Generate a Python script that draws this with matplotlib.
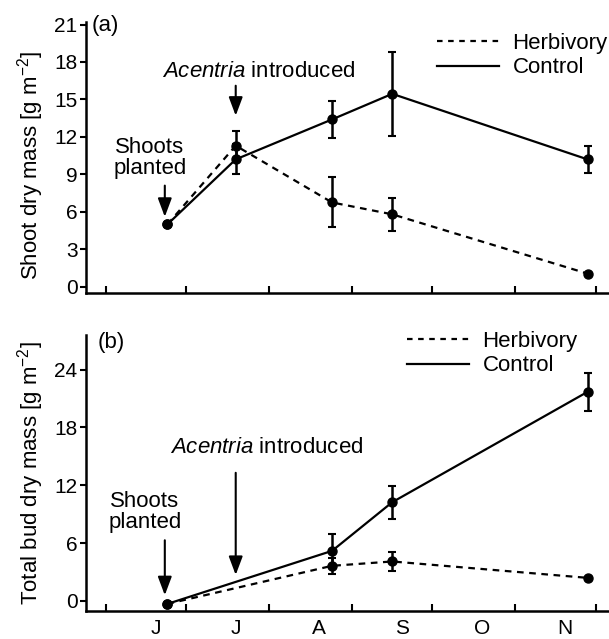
import numpy as np
import matplotlib
matplotlib.use('Agg')
import matplotlib.pyplot as plt
from matplotlib.lines import Line2D

plt.rcParams['font.family'] = ['Liberation Sans', 'DejaVu Sans']
plt.rcParams['mathtext.fontset'] = 'custom'
plt.rcParams['mathtext.rm'] = 'Liberation Sans'
plt.rcParams['mathtext.it'] = 'Liberation Sans:italic'
plt.rcParams['mathtext.default'] = 'regular'

# x axis: days since 1 June
month_starts = [0, 30, 61, 92, 122, 153, 183]
month_labels = ['J', 'J', 'A', 'S', 'O', 'N']

# (a) shoot dry mass
shoot_days = [23, 48.5, 84.5, 107, 180]
shoot_herb = [5.0, 11.3, 6.75, 5.8, 1.05]
shoot_herb_se = [0, 1.2, 2.0, 1.3, 0]
shoot_ctrl = [5.0, 10.2, 13.4, 15.45, 10.2]
shoot_ctrl_se = [0, 1.2, 1.45, 3.35, 1.07]

# (b) total bud dry mass
bud_days = [23, 84.5, 107, 180]
bud_herb = [-0.3, 3.65, 4.1, 2.4]
bud_herb_se = [0, 0.85, 0.97, 0]
bud_ctrl = [-0.3, 5.2, 10.25, 21.7]
bud_ctrl_se = [0, 1.7, 1.73, 1.95]

planted_day = 22
intro_day = 48.5

FS = 15     # tick labels
TFS = 16    # annotations, legend, axis labels
dash = (0, (3, 2.5))


def draw_series(ax, days, herb, herb_se, ctrl, ctrl_se):
    ax.plot(days, herb, ls=dash, color='k', lw=1.6, marker='o', ms=6.5)
    ax.plot(days, ctrl, ls='-', color='k', lw=1.6, marker='o', ms=6.5)
    ax.errorbar(days, herb, yerr=herb_se, fmt='none', ecolor='k', elinewidth=1.8, capsize=3, capthick=1.5)
    ax.errorbar(days, ctrl, yerr=ctrl_se, fmt='none', ecolor='k', elinewidth=1.8, capsize=3, capthick=1.5)


def style_axes(ax):
    for s in ['top', 'right']:
        ax.spines[s].set_visible(False)
    for s in ['left', 'bottom']:
        ax.spines[s].set_linewidth(1.8)
    ax.set_xlim(-7.5, 188)
    ax.set_xticks(month_starts)
    ax.set_xticklabels([])
    ax.tick_params(axis='x', which='major', direction='in', length=5, width=1.5)
    ax.tick_params(axis='y', direction='out', length=4, width=1.5, labelsize=FS, pad=2)


def add_legend(ax, anchor):
    handles = [Line2D([], [], color='k', lw=1.6, ls=(0, (2.5, 2.5))),
               Line2D([], [], color='k', lw=1.6, ls='-')]
    ax.legend(handles, ['Herbivory', 'Control'], loc='upper left', bbox_to_anchor=anchor,
              bbox_transform=ax.figure.transFigure, frameon=False, fontsize=TFS,
              handlelength=2.8, handletextpad=0.6, labelspacing=0.15, borderpad=0, borderaxespad=0)


def arrow(ax, x, y0, y1):
    ax.annotate('', xy=(x, y1), xytext=(x, y0),
                arrowprops=dict(arrowstyle='-|>,head_width=0.3,head_length=0.8',
                                color='k', lw=1.5, mutation_scale=14, shrinkA=0, shrinkB=0))


fig = plt.figure(figsize=(6.09, 6.39), dpi=100)
ax1 = fig.add_axes([0.141, 0.5415, 0.859, 0.424])
ax2 = fig.add_axes([0.141, 0.0438, 0.859, 0.432])

# panel (a)
draw_series(ax1, shoot_days, shoot_herb, shoot_herb_se, shoot_ctrl, shoot_ctrl_se)
style_axes(ax1)
ax1.set_ylim(-0.5, 21.2)
ax1.set_yticks(np.arange(0, 22, 3))
ax1.set_ylabel('Shoot dry mass [g m$^{-2}$]', fontsize=TFS)
ax1.yaxis.set_label_coords(-0.077, 0.47)
ax1.text(-5.2, 20.9, '(a)', fontsize=TFS, ha='left', va='center')
ax1.text(16.4, 10.3, 'Shoots\nplanted', fontsize=TFS, ha='center', va='center', linespacing=1.0)
arrow(ax1, planted_day, 8.1, 5.6)
ax1.text(57, 17.2, r'$\it{Acentria}$ introduced', fontsize=TFS, ha='center', va='center')
arrow(ax1, intro_day, 16.1, 13.7)
add_legend(ax1, (437 / 609, 1 - 33 / 639))

# panel (b)
draw_series(ax2, bud_days, bud_herb, bud_herb_se, bud_ctrl, bud_ctrl_se)
style_axes(ax2)
ax2.set_ylim(-1.04, 27.6)
ax2.set_yticks(np.arange(0, 25, 6))
ax2.set_ylabel('Total bud dry mass [g m$^{-2}$]', fontsize=TFS)
ax2.yaxis.set_label_coords(-0.077, 0.5)
ax2.set_xticks(np.array(month_starts[:-1]) + 18.5, minor=True)
ax2.set_xticklabels(month_labels, minor=True)
ax2.tick_params(axis='x', which='minor', length=0, labelsize=FS, pad=6)
ax2.text(-3, 26.8, '(b)', fontsize=TFS, ha='left', va='center')
ax2.text(14.6, 9.25, 'Shoots\nplanted', fontsize=TFS, ha='center', va='center', linespacing=1.0)
arrow(ax2, planted_day, 6.3, 0.6)
ax2.text(60, 15.9, r'$\it{Acentria}$ introduced', fontsize=TFS, ha='center', va='center')
arrow(ax2, intro_day, 13.3, 2.7)
add_legend(ax2, (407 / 609, 1 - 331 / 639))

fig.savefig('out.png', dpi=100)
